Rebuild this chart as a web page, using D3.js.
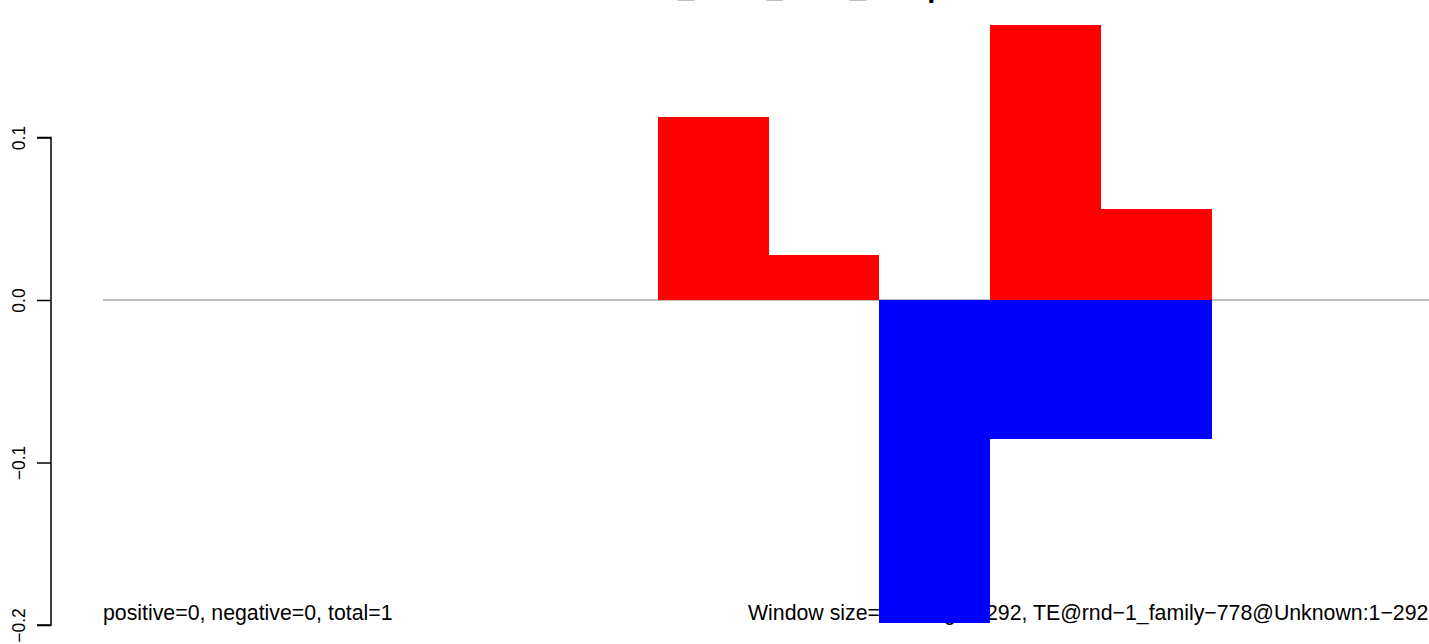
<!DOCTYPE html>
<html>
<head>
<meta charset="utf-8">
<script src="https://cdn.jsdelivr.net/npm/d3@7"></script>
<style>
  html, body { margin: 0; padding: 0; background: #fff; overflow: hidden; }
</style>
</head>
<body>
<div id="chart"></div>
<script>
const W = 1429, H = 644;
const FONT = '"Liberation Sans", Arial, Helvetica, sans-serif';

// window starts (bp), window size 25 over a 292 bp element
const windowStarts = [0, 25, 50, 75, 100, 125, 150, 175, 200, 225, 250, 275];
const positive     = [0, 0, 0, 0, 0, 0.1126, 0.0277, 0, 0.1692, 0.0560, 0, 0];
const negative     = [0, 0, 0, 0, 0, 0, 0, -0.1986, -0.0855, -0.0855, 0, 0];
const yTicks = [-0.2, -0.1, 0.0, 0.1];
const WIN = 25;

const titleText = 'Ctrl_Rnd1_Total_Sample';
const leftNote  = 'positive=0, negative=0, total=1';
const rightNote = 'Window size=25, length=292, TE@rnd\u22121_family\u2212778@Unknown:1\u2212292';

const RED = '#ff0000', BLUE = '#0000ff';

const x = d3.scaleLinear().domain([0, 300]).range([103, 1434]);
const y = d3.scaleLinear().domain([-0.2, 0.1]).range([625, 137.5]);

const svg = d3.select('#chart')
  .append('svg')
  .attr('width', W)
  .attr('height', H)
  .style('font-family', FONT);

// title, mostly above the top edge
const title = svg.append('text')
  .attr('y', -3)
  .attr('font-size', 29)
  .attr('font-weight', 'bold')
  .attr('fill', '#000')
  .text(titleText);
const us = titleText.indexOf('_');
title.attr('x', 678 - title.node().getSubStringLength(0, us));

// notes along the bottom (drawn first, bars cover them)
svg.append('text')
  .attr('x', 103).attr('y', 620)
  .attr('font-size', 21.3)
  .attr('fill', '#000')
  .text(leftNote);

svg.append('text')
  .attr('x', 748).attr('y', 620)
  .attr('font-size', 21.3)
  .attr('fill', '#000')
  .text(rightNote);

// zero line
svg.append('line')
  .attr('x1', 103).attr('x2', W)
  .attr('y1', y(0)).attr('y2', y(0))
  .attr('stroke', '#a8a8a8')
  .attr('stroke-width', 1.5);

// bars
svg.append('g').selectAll('rect')
  .data(windowStarts.map((s, i) => ({ s, v: positive[i] })).filter(d => d.v > 0))
  .join('rect')
  .attr('x', d => x(d.s))
  .attr('width', d => x(d.s + WIN) - x(d.s))
  .attr('y', d => y(d.v))
  .attr('height', d => y(0) - y(d.v))
  .attr('fill', RED)
  .attr('shape-rendering', 'crispEdges');

svg.append('g').selectAll('rect')
  .data(windowStarts.map((s, i) => ({ s, v: negative[i] })).filter(d => d.v < 0))
  .join('rect')
  .attr('x', d => x(d.s))
  .attr('width', d => x(d.s + WIN) - x(d.s))
  .attr('y', y(0))
  .attr('height', d => y(d.v) - y(0))
  .attr('fill', BLUE)
  .attr('shape-rendering', 'crispEdges');

// y axis, R style: rotated labels, unicode minus
const yAxis = d3.axisLeft(y)
  .tickValues(yTicks)
  .tickSize(14)
  .tickPadding(12)
  .tickFormat(d => d3.format('.1f')(d).replace('-', '\u2212'));

const ag = svg.append('g')
  .attr('transform', 'translate(51,0)')
  .call(yAxis);

ag.select('.domain')
  .attr('d', `M-14,${y(0.1)}H0V${y(-0.2)}H-14`)
  .attr('stroke-width', 1.5);
ag.selectAll('.tick line').attr('stroke-width', 1.5);
ag.selectAll('.tick text')
  .attr('font-family', FONT)
  .attr('font-size', 17.5)
  .attr('fill', '#000')
  .attr('x', null).attr('dy', null)
  .attr('text-anchor', 'middle')
  .attr('transform', 'translate(-26,0) rotate(-90)');
</script>
</body>
</html>
